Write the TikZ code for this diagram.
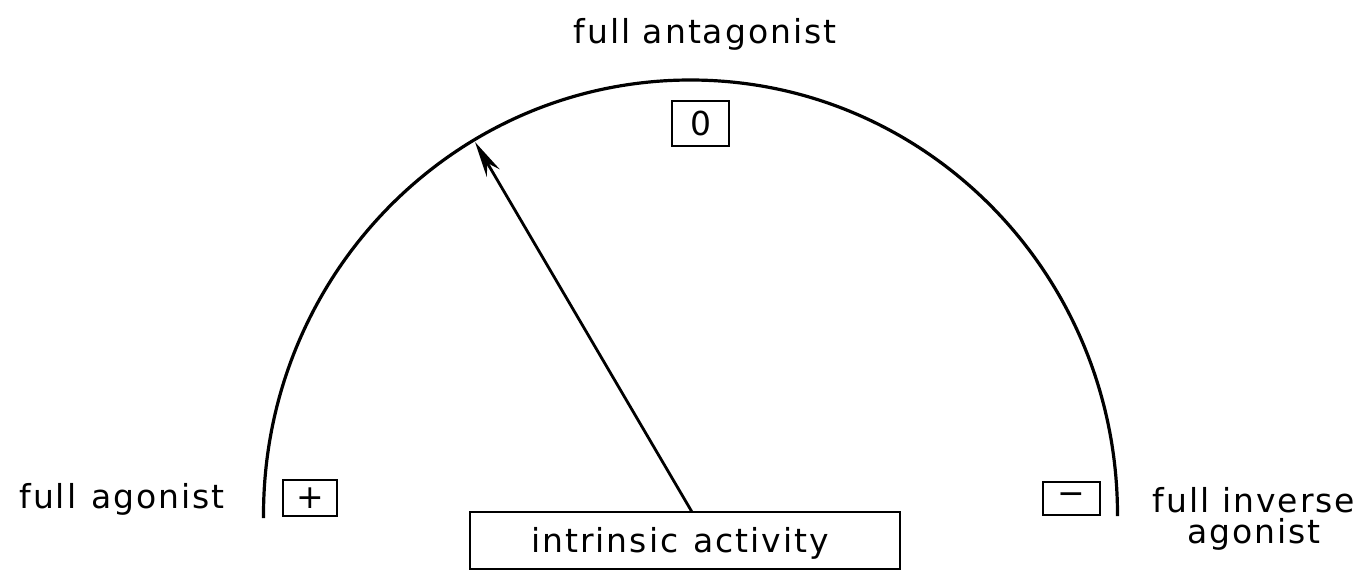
\documentclass[tikz,border=0pt]{standalone}
\usepackage{fontspec}
\setmainfont{DejaVu Sans}[LetterSpace=6]
\usetikzlibrary{arrows.meta}
\tikzset{
  lbl/.style={font=\fontsize{33}{31}\selectfont, inner sep=0pt, anchor=base},
  valbox/.style={draw, line width=2.6pt, font=\fontsize{33}{31}\selectfont, inner sep=0pt, minimum width=#1},
  arcline/.style={line width=3.2pt},
  pointer/.style={line width=2.8pt, -{Stealth[length=36pt,width=15pt]}}
}
\begin{document}
\begin{tikzpicture}[x=1pt,y=-1pt]
\useasboundingbox (0,0) rectangle (1369,571);
% scale arc
\draw[arcline] (263.5,518) -- (263.5,515) arc[start angle=180, end angle=360, x radius=427, y radius=435] -- (1117.5,516);
\coordinate (tip) at (475,142);
% value boxes
\node[valbox=54pt, minimum height=36pt] (plus) at (310,498) {+};
\node[valbox=57pt, minimum height=45pt] (zero) at (700.5,123.5) {0};
\node[valbox=57pt, minimum height=33pt] (minus) at (1071.5,498.5) {−};
% intrinsic activity box
\node[draw, line width=2.8pt, minimum width=430pt, minimum height=57pt, inner sep=0pt] (ia) at (685,540.5) {};
\node[lbl] (iat) at (680,552) {intrinsic\hspace{0.45em}activity};
\coordinate (base) at (692,512);
\draw[pointer] (base) -- (tip);
% labels
\node[lbl] (fa) at (705,43) {full antagonist};
\node[lbl] (ag) at (122,508) {full\hspace{0.45em}agonist};
\node[lbl, align=center] (inv) at (1254,543) {full inverse\\agonist};
\end{tikzpicture}
\end{document}
